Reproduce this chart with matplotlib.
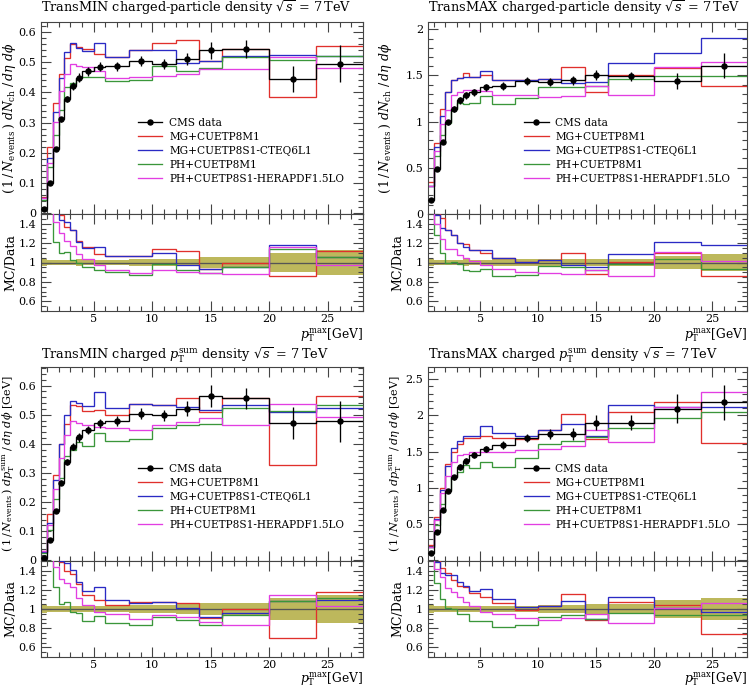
import numpy as np
import matplotlib
matplotlib.use("Agg")
import matplotlib.pyplot as plt
from matplotlib.ticker import MultipleLocator
from matplotlib.lines import Line2D

plt.rcParams['font.family'] = ['DejaVu Serif']
plt.rcParams['mathtext.fontset'] = 'dejavuserif'

# ---------------- data ----------------
bin_edges = [0.5, 1, 1.5, 2, 2.5, 3, 3.5, 4, 5, 6, 8, 10, 12, 14, 16, 20, 24, 28]

series_labels = ["MG+CUETP8M1", "MG+CUETP8S1-CTEQ6L1", "PH+CUETP8M1", "PH+CUETP8S1-HERAPDF1.5LO"]
data_label = "CMS data"

# TransMIN charged-particle density
tmin_nch_data = [0.013, 0.100, 0.213, 0.311, 0.378, 0.421, 0.449, 0.470, 0.485, 0.487, 0.504, 0.493, 0.510, 0.539, 0.545, 0.446, 0.495]
tmin_nch_err = [0.0005, 0.003, 0.006, 0.009, 0.011, 0.013, 0.014, 0.014, 0.015, 0.015, 0.017, 0.017, 0.020, 0.028, 0.030, 0.043, 0.062]
tmin_nch_mg_m1 = [0.055, 0.220, 0.365, 0.462, 0.515, 0.560, 0.550, 0.543, 0.528, 0.518, 0.540, 0.562, 0.573, 0.505, 0.545, 0.385, 0.553]
tmin_nch_mg_s1 = [0.050, 0.183, 0.335, 0.447, 0.535, 0.562, 0.546, 0.538, 0.565, 0.518, 0.540, 0.540, 0.496, 0.505, 0.520, 0.525, 0.522]
tmin_nch_ph_m1 = [0.045, 0.152, 0.258, 0.342, 0.418, 0.432, 0.447, 0.450, 0.450, 0.438, 0.440, 0.487, 0.470, 0.482, 0.517, 0.508, 0.522]
tmin_nch_ph_s1 = [0.050, 0.168, 0.302, 0.404, 0.460, 0.493, 0.487, 0.485, 0.472, 0.447, 0.450, 0.455, 0.460, 0.478, 0.478, 0.518, 0.480]

# TransMAX charged-particle density
tmax_nch_data = [0.144, 0.487, 0.778, 0.991, 1.135, 1.229, 1.283, 1.315, 1.369, 1.387, 1.438, 1.427, 1.445, 1.506, 1.492, 1.438, 1.607]
tmax_nch_err = [0.005, 0.015, 0.023, 0.030, 0.034, 0.037, 0.040, 0.040, 0.041, 0.043, 0.045, 0.045, 0.045, 0.054, 0.050, 0.090, 0.140]
tmax_nch_mg_m1 = [0.342, 0.767, 1.138, 1.318, 1.455, 1.470, 1.530, 1.485, 1.500, 1.455, 1.445, 1.460, 1.590, 1.325, 1.500, 1.585, 1.385]
tmax_nch_mg_s1 = [0.298, 0.725, 1.056, 1.318, 1.455, 1.470, 1.485, 1.485, 1.545, 1.455, 1.445, 1.460, 1.415, 1.430, 1.630, 1.740, 1.905]
tmax_nch_ph_m1 = [0.300, 0.625, 0.857, 0.985, 1.140, 1.205, 1.190, 1.200, 1.280, 1.190, 1.250, 1.370, 1.375, 1.385, 1.462, 1.497, 1.497]
tmax_nch_ph_s1 = [0.300, 0.680, 0.970, 1.130, 1.290, 1.325, 1.340, 1.340, 1.330, 1.290, 1.290, 1.270, 1.275, 1.390, 1.285, 1.590, 1.640]

# TransMIN charged pTsum density
tmin_pt_data = [0.007, 0.070, 0.171, 0.267, 0.337, 0.391, 0.422, 0.448, 0.471, 0.479, 0.503, 0.498, 0.521, 0.565, 0.556, 0.471, 0.478]
tmin_pt_err = [0.0003, 0.0025, 0.006, 0.009, 0.011, 0.013, 0.014, 0.015, 0.016, 0.017, 0.019, 0.020, 0.026, 0.038, 0.036, 0.055, 0.070]
tmin_pt_mg_m1 = [0.033, 0.158, 0.294, 0.398, 0.470, 0.535, 0.530, 0.512, 0.517, 0.498, 0.538, 0.535, 0.556, 0.511, 0.556, 0.328, 0.564]
tmin_pt_mg_s1 = [0.030, 0.130, 0.277, 0.400, 0.500, 0.548, 0.540, 0.530, 0.577, 0.523, 0.537, 0.535, 0.525, 0.515, 0.535, 0.510, 0.522]
tmin_pt_ph_m1 = [0.025, 0.106, 0.210, 0.282, 0.360, 0.378, 0.405, 0.393, 0.438, 0.410, 0.418, 0.455, 0.464, 0.470, 0.522, 0.512, 0.534]
tmin_pt_ph_s1 = [0.033, 0.121, 0.245, 0.350, 0.429, 0.479, 0.471, 0.465, 0.457, 0.454, 0.448, 0.466, 0.476, 0.489, 0.466, 0.538, 0.492]

# TransMAX charged pTsum density
tmax_pt_data = [0.100, 0.387, 0.700, 0.960, 1.143, 1.290, 1.376, 1.453, 1.535, 1.590, 1.686, 1.745, 1.740, 1.900, 1.900, 2.090, 2.180]
tmax_pt_err = [0.004, 0.013, 0.022, 0.030, 0.035, 0.040, 0.042, 0.045, 0.047, 0.050, 0.060, 0.065, 0.080, 0.100, 0.100, 0.200, 0.240]
tmax_pt_mg_m1 = [0.205, 0.600, 1.000, 1.325, 1.490, 1.600, 1.690, 1.690, 1.720, 1.690, 1.670, 1.800, 2.020, 1.680, 2.040, 2.180, 1.620]
tmax_pt_mg_s1 = [0.190, 0.575, 0.965, 1.300, 1.550, 1.650, 1.710, 1.720, 1.850, 1.760, 1.720, 1.800, 1.880, 1.710, 2.140, 2.120, 2.120]
tmax_pt_ph_m1 = [0.180, 0.490, 0.770, 0.970, 1.143, 1.220, 1.310, 1.270, 1.350, 1.290, 1.410, 1.600, 1.640, 1.700, 1.830, 1.970, 2.050]
tmax_pt_ph_s1 = [0.190, 0.550, 0.930, 1.170, 1.350, 1.450, 1.470, 1.500, 1.490, 1.500, 1.520, 1.540, 1.580, 1.800, 1.630, 2.110, 2.320]

titles = [
    r"TransMIN charged-particle density $\sqrt{s}\,=\,7\,\mathrm{TeV}$",
    r"TransMAX charged-particle density $\sqrt{s}\,=\,7\,\mathrm{TeV}$",
    r"TransMIN charged $p_\mathrm{T}^\mathrm{sum}$ density $\sqrt{s}\,=\,7\,\mathrm{TeV}$",
    r"TransMAX charged $p_\mathrm{T}^\mathrm{sum}$ density $\sqrt{s}\,=\,7\,\mathrm{TeV}$",
]
ylabel_nch = r"$(\,1\,/\,N_\mathrm{events}\,)\ dN_\mathrm{ch}\ /\,d\eta\ d\phi$"
ylabel_pt = r"$(\,1\,/\,N_\mathrm{events}\,)\ dp_\mathrm{T}^\mathrm{sum}\ /\,d\eta\ d\phi$ [GeV]"
xlabel = r"$p_\mathrm{T}^\mathrm{max}$[GeV]"
ratio_ylabel = "MC/Data"

# ---------------- style ----------------
W, H = 752, 687
colors = ['#e0302c', '#2a2ac4', '#3a963a', '#e23ee2']
band_color = '#bdb85c'
LW = 0.95
FS_TICK = 8
FS_TITLE = 9.3
FS_LEG = 7.6

fig = plt.figure(figsize=(W / 100, H / 100), dpi=100)


def rect(x0, x1, ytop, ybot):
    return [x0 / W, 1 - ybot / H, (x1 - x0) / W, (ybot - ytop) / H]


panels = [
    dict(x0=41, x1=363, top=22, mid=214, bot=311, data=tmin_nch_data, err=tmin_nch_err,
         mc=[tmin_nch_mg_m1, tmin_nch_mg_s1, tmin_nch_ph_m1, tmin_nch_ph_s1],
         title=titles[0], ylabel=ylabel_nch, ylfs=9.0, ylim=(-0.002, 0.633), maj=0.1, mnr=0.02,
         ylab_x=9, rlab_x=11, title_y=8, xlab_y=335),
    dict(x0=428, x1=747, top=22, mid=214, bot=311, data=tmax_nch_data, err=tmax_nch_err,
         mc=[tmax_nch_mg_m1, tmax_nch_mg_s1, tmax_nch_ph_m1, tmax_nch_ph_s1],
         title=titles[1], ylabel=ylabel_nch, ylfs=9.0, ylim=(-0.003, 2.079), maj=0.5, mnr=0.1,
         ylab_x=386, rlab_x=398, title_y=8, xlab_y=335),
    dict(x0=41, x1=363, top=367, mid=561, bot=657, data=tmin_pt_data, err=tmin_pt_err,
         mc=[tmin_pt_mg_m1, tmin_pt_mg_s1, tmin_pt_ph_m1, tmin_pt_ph_s1],
         title=titles[2], ylabel=ylabel_pt, ylfs=8.1, ylim=(-0.002, 0.664), maj=0.1, mnr=0.02,
         ylab_x=8, rlab_x=11, title_y=355, xlab_y=679),
    dict(x0=428, x1=747, top=367, mid=561, bot=657, data=tmax_pt_data, err=tmax_pt_err,
         mc=[tmax_pt_mg_m1, tmax_pt_mg_s1, tmax_pt_ph_m1, tmax_pt_ph_s1],
         title=titles[3], ylabel=ylabel_pt, ylfs=8.1, ylim=(-0.01, 2.668), maj=0.5, mnr=0.1,
         ylab_x=395, rlab_x=398, title_y=355, xlab_y=679),
]

edges = np.array(bin_edges, dtype=float)
centers = 0.5 * (edges[:-1] + edges[1:])


def style_axis(ax):
    ax.set_xlim(edges[0], edges[-1])
    ax.xaxis.set_major_locator(MultipleLocator(5))
    ax.xaxis.set_minor_locator(MultipleLocator(1))
    ax.tick_params(which='both', direction='in', top=True, right=True,
                   labelsize=FS_TICK, width=0.8, color='#444444')
    ax.tick_params(which='major', length=7)
    ax.tick_params(which='minor', length=3.5)
    for s in ax.spines.values():
        s.set_linewidth(0.8)
        s.set_color('#444444')


def fmt_tick(v, pos):
    if abs(v) < 1e-9:
        return "0"
    s = f"{v:.1f}"
    if s.endswith(".0"):
        s = s[:-2]
    return s


for p in panels:
    data = np.array(p['data'])
    err = np.array(p['err'])
    ax = fig.add_axes(rect(p['x0'], p['x1'], p['top'], p['mid']))
    rx = fig.add_axes(rect(p['x0'], p['x1'], p['mid'], p['bot']))
    h_ax = p['mid'] - p['top']
    w_ax = p['x1'] - p['x0']
    h_rx = p['bot'] - p['mid']

    # main plot
    for vals, c in zip(p['mc'], colors):
        ax.stairs(vals, edges, baseline=None, color=c, lw=LW, zorder=2)
    ax.stairs(data, edges, baseline=None, color='black', lw=LW, zorder=3)
    ax.errorbar(centers, data, yerr=err, fmt='o', ms=3.6, color='black',
                elinewidth=LW, capsize=0, zorder=4)
    style_axis(ax)
    ax.set_ylim(*p['ylim'])
    ax.yaxis.set_major_locator(MultipleLocator(p['maj']))
    ax.yaxis.set_minor_locator(MultipleLocator(p['mnr']))
    ax.yaxis.set_major_formatter(fmt_tick)
    ax.tick_params(labelbottom=False)
    ax.set_ylabel(p['ylabel'], fontsize=p['ylfs'])
    ax.yaxis.label.set_va('center')
    ax.yaxis.set_label_coords((p['ylab_x'] - p['x0']) / w_ax, 0.5)
    ax.text(0.0, 1 + (p['top'] - p['title_y']) / h_ax, p['title'], transform=ax.transAxes,
            ha='left', va='center', fontsize=FS_TITLE)

    handles = [Line2D([], [], color='black', lw=LW, marker='o', ms=3.6)]
    handles += [Line2D([], [], color=c, lw=LW) for c in colors]
    ax.legend(handles, [data_label] + series_labels, loc='upper left',
              bbox_to_anchor=(0.30, 0.50), frameon=False, fontsize=FS_LEG,
              handlelength=2.35, handletextpad=0.65, labelspacing=0.37,
              borderpad=0, borderaxespad=0)

    # ratio plot
    rel = err / data
    rx.stairs(1 + rel, edges, baseline=1 - rel, fill=True, color=band_color, lw=0, zorder=1)
    rx.stairs(data / data, edges, baseline=None, color='#555555', lw=LW, zorder=2)
    for vals, c in zip(p['mc'], colors):
        rx.stairs(np.array(vals) / data, edges, baseline=None, color=c, lw=LW, zorder=3)
    style_axis(rx)
    rx.tick_params(axis='x', which='major', pad=2.5)
    rx.set_ylim(0.5, 1.5)
    rx.yaxis.set_minor_locator(MultipleLocator(0.05))
    rx.set_yticks([0.6, 0.8, 1.0, 1.2, 1.4])
    rx.yaxis.set_major_formatter(fmt_tick)
    rx.set_ylabel(ratio_ylabel, fontsize=9)
    rx.yaxis.label.set_va('center')
    rx.yaxis.set_label_coords((p['rlab_x'] - p['x0']) / w_ax, 0.5)
    rx.set_xlabel(xlabel, fontsize=8.8)
    rx.xaxis.label.set_ha('right')
    rx.xaxis.label.set_va('center')
    rx.xaxis.set_label_coords(1.0, -(p['xlab_y'] - p['bot']) / h_rx)

fig.savefig("out.png", dpi=100)
